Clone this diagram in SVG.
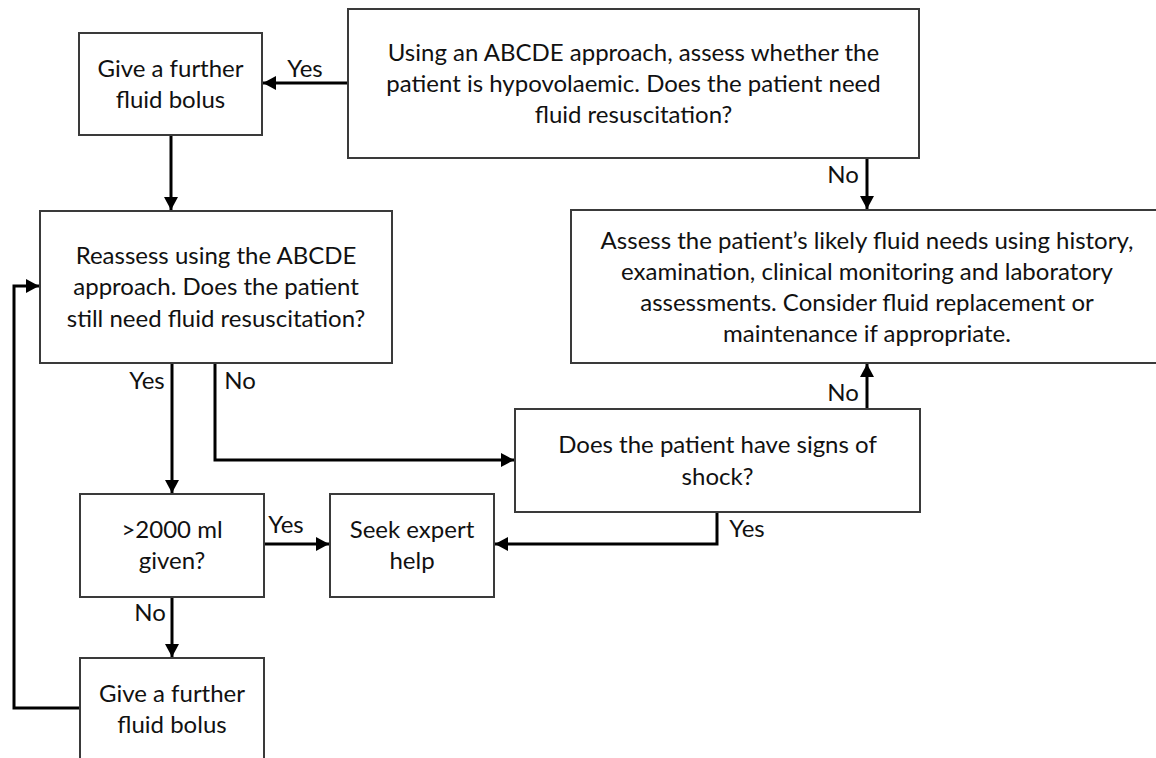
<svg xmlns="http://www.w3.org/2000/svg" width="1156" height="758" viewBox="0 0 1156 758">
<style>
.box{fill:#fff;stroke:#3a3a3a;stroke-width:2}
.t{font-family:Lato,"Liberation Sans",sans-serif;font-size:24px;fill:#111;text-anchor:middle}
.lbl{font-family:Lato,"Liberation Sans",sans-serif;font-size:24px;fill:#111;text-anchor:middle}
.c{fill:none;stroke:#000;stroke-width:3}
</style>
<defs>
<marker id="ah" markerUnits="userSpaceOnUse" markerWidth="13" markerHeight="14" refX="13" refY="7" orient="auto">
<path d="M0,0 L13,7 L0,14 z" fill="#000"/>
</marker>
</defs>
<rect width="1156" height="758" fill="#fff"/>
<g id="connectors">
<path class="c" d="M348,83 H263" marker-end="url(#ah)"/>
<path class="c" d="M171,135 V210" marker-end="url(#ah)"/>
<path class="c" d="M867,158 V209" marker-end="url(#ah)"/>
<path class="c" d="M172,363 V493" marker-end="url(#ah)"/>
<path class="c" d="M215,363 V460 H514" marker-end="url(#ah)"/>
<path class="c" d="M264,544 H329" marker-end="url(#ah)"/>
<path class="c" d="M717,512 V544 H495" marker-end="url(#ah)"/>
<path class="c" d="M867,409 V364" marker-end="url(#ah)"/>
<path class="c" d="M172,597 V657" marker-end="url(#ah)"/>
<path class="c" d="M80,708 H14 V286 H39" marker-end="url(#ah)"/>
<text class="lbl" x="305" y="77">Yes</text>
<text class="lbl" x="843" y="183">No</text>
<text class="lbl" x="147" y="389">Yes</text>
<text class="lbl" x="240" y="389">No</text>
<text class="lbl" x="286" y="533">Yes</text>
<text class="lbl" x="150" y="621">No</text>
<text class="lbl" x="843" y="401">No</text>
<text class="lbl" x="747" y="537">Yes</text>
</g>
<g id="n-assess-hypo">
<rect class="box" x="348" y="9" width="571" height="149"/>
<text class="t" x="633.5" y="61">Using an ABCDE approach, assess whether the</text>
<text class="t" x="633.5" y="92">patient is hypovolaemic. Does the patient need</text>
<text class="t" x="633.5" y="123">fluid resuscitation?</text>
</g>
<g id="n-bolus-top">
<rect class="box" x="79" y="33" width="183" height="102"/>
<text class="t" x="170.5" y="77">Give a further</text>
<text class="t" x="170.5" y="108">fluid bolus</text>
</g>
<g id="n-reassess">
<rect class="box" x="40" y="211" width="352" height="152"/>
<text class="t" x="216" y="264">Reassess using the ABCDE</text>
<text class="t" x="216" y="295">approach. Does the patient</text>
<text class="t" x="216" y="327">still need fluid resuscitation?</text>
</g>
<g id="n-fluid-needs">
<rect class="box" x="571" y="210" width="590" height="153"/>
<text class="t" x="867" y="249">Assess the patient’s likely fluid needs using history,</text>
<text class="t" x="867" y="280">examination, clinical monitoring and laboratory</text>
<text class="t" x="867" y="311">assessments. Consider fluid replacement or</text>
<text class="t" x="867" y="342">maintenance if appropriate.</text>
</g>
<g id="n-shock">
<rect class="box" x="515" y="409" width="405" height="103"/>
<text class="t" x="717.5" y="453">Does the patient have signs of</text>
<text class="t" x="717.5" y="485">shock?</text>
</g>
<g id="n-2000">
<rect class="box" x="80" y="494" width="184" height="103"/>
<text class="t" x="172" y="538">&gt;2000 ml</text>
<text class="t" x="172" y="569">given?</text>
</g>
<g id="n-expert">
<rect class="box" x="330" y="494" width="164" height="103"/>
<text class="t" x="412" y="538">Seek expert</text>
<text class="t" x="412" y="569">help</text>
</g>
<g id="n-bolus-bottom">
<rect class="box" x="80" y="658" width="184" height="110"/>
<text class="t" x="172" y="702">Give a further</text>
<text class="t" x="172" y="733">fluid bolus</text>
</g>
</svg>
